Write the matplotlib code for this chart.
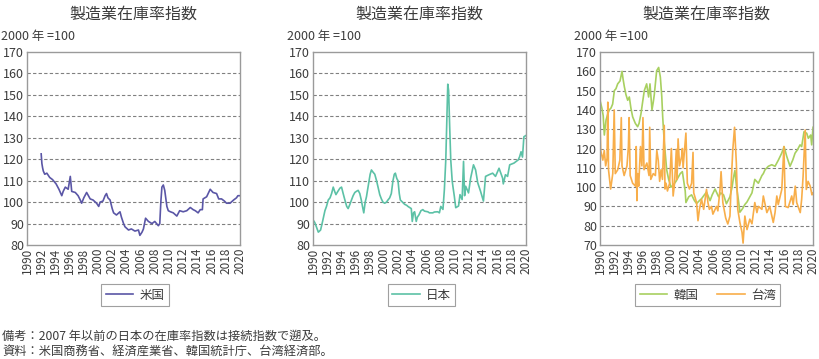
import matplotlib.pyplot as plt

plt.rcParams['font.family'] = ['Noto Sans CJK JP', 'DejaVu Sans']

TXT = "#3c3c3c"

# values (year as decimal, index 2000 = 100)
us_t = [1992.0, 1992.1, 1992.2, 1992.3, 1992.5, 1992.8, 1993.2, 1993.6, 1994.1, 1994.5,
        1994.9, 1995.1, 1995.4, 1995.8, 1996.1, 1996.3, 1996.8, 1997.2, 1997.5, 1997.7,
        1998.0, 1998.4, 1998.9, 1999.3, 1999.8, 2000.1, 2000.3, 2000.7, 2001.0, 2001.2,
        2001.4, 2001.7, 2002.0, 2002.2, 2002.6, 2003.1, 2003.3, 2003.6, 2003.8, 2004.3,
        2004.7, 2005.2, 2005.7, 2005.9, 2006.2, 2006.4, 2006.7, 2007.1, 2007.6, 2008.0,
        2008.5, 2008.7, 2008.85, 2009.0, 2009.2, 2009.4, 2009.7, 2009.9, 2010.2, 2010.6,
        2011.1, 2011.5, 2012.0, 2012.5, 2013.0, 2013.4, 2013.7, 2014.1, 2014.4, 2014.7,
        2014.8, 2015.3, 2015.8, 2016.2, 2016.7, 2017.0, 2017.4, 2017.8, 2018.1, 2018.6,
        2019.1, 2019.5, 2019.7, 2020.0]
us_v = [122.5, 118, 116, 114.5, 113, 113.5, 111.5, 110.5, 108.5, 106,
        103, 105, 107, 106, 112, 105, 104.5, 103, 101, 99.5,
        102, 104.5, 101.5, 101, 99.5, 98, 100, 100.5, 103, 104,
        102, 101, 97, 95, 94, 95.5, 93, 90, 88.5, 87,
        87.5, 86.5, 87, 84.5, 86, 87.5, 92.5, 91, 90, 91,
        89, 90, 100, 107, 108, 105.5, 98, 96, 95.5, 95,
        93.5, 96, 95.5, 96, 97.5, 96.5, 96, 95, 96.5, 96.5,
        101.5, 102.5, 106, 104.5, 104, 101.5, 101.5, 100.5, 99.5, 99.5,
        101, 102, 103, 103]

jp_t = [1990.05, 1990.25, 1990.42, 1990.75, 1991.07, 1991.35, 1991.68, 1991.9, 1992.15, 1992.4,
        1992.62, 1992.85, 1993.05, 1993.23, 1993.5, 1993.79, 1994.02, 1994.25, 1994.49, 1994.75,
        1994.95, 1995.2, 1995.42, 1995.65, 1995.89, 1996.1, 1996.36, 1996.59, 1996.8, 1996.97,
        1997.15, 1997.35, 1997.53, 1997.7, 1997.9, 1998.05, 1998.23, 1998.45, 1998.7, 1998.95,
        1999.16, 1999.4, 1999.63, 1999.85, 2000.1, 2000.35, 2000.56, 2000.8, 2001.03, 2001.26,
        2001.45, 2001.6, 2001.8, 2001.97, 2002.15, 2002.3, 2002.6, 2002.9, 2003.2, 2003.37,
        2003.6, 2003.84, 2003.98, 2004.15, 2004.31, 2004.54, 2004.7, 2004.91, 2005.2, 2005.47,
        2005.7, 2006.17, 2006.4, 2006.87, 2007.1, 2007.57, 2007.8, 2008.0, 2008.3, 2008.5,
        2008.7, 2008.98, 2009.1, 2009.25, 2009.4, 2009.6, 2009.7, 2009.9, 2010.1, 2010.5,
        2010.7, 2011.0, 2011.2, 2011.35, 2011.5, 2011.9, 2012.2, 2012.6, 2012.9, 2013.2,
        2013.6, 2014.0, 2014.3, 2014.8, 2015.3, 2015.7, 2016.2, 2016.7, 2016.8, 2017.1,
        2017.4, 2017.7, 2018.3, 2018.9, 2019.1, 2019.3, 2019.5, 2019.7, 2019.95]
jp_v = [91.5, 90.5, 89, 86, 87, 91, 96, 98, 101, 102,
        104, 107, 105, 103.5, 105, 106.5, 107, 104, 101, 98,
        97, 99, 101, 103, 104.5, 105, 105.5, 104, 101, 98,
        95, 100, 102.5, 106, 110, 113, 115, 114, 113, 110,
        107, 103.5, 101.5, 100, 99.5, 100, 101, 102, 104, 110,
        113, 113.5, 111, 110, 104, 101, 100, 99, 98.5, 98,
        97.5, 97, 91, 95, 95.5, 91, 93, 94, 96, 96.5,
        95.8, 95.5, 95, 95, 95.4, 95.5, 95, 98, 96.6, 105.8,
        119.7, 155, 152, 135, 119.7, 110, 107.4, 102.8, 97.4, 98.2,
        103.5, 101.2, 119, 103, 107.4, 104.3, 111.2, 117.4, 115, 109,
        105, 100.5, 112, 112.8, 113.5, 112, 115.8, 111.2, 108.5, 112.8,
        112, 117.4, 118.2, 119.7, 121.2, 123.5, 121, 130.5, 131]

kr_t = [1990.0, 1990.28, 1990.45, 1990.61, 1990.85, 1991.1, 1991.31, 1991.55, 1991.78, 1992.02,
        1992.25, 1992.49, 1992.82, 1993.1, 1993.25, 1993.43, 1993.65, 1993.9, 1994.13, 1994.35,
        1994.6, 1994.98, 1995.3, 1995.5, 1995.77, 1996.0, 1996.24, 1996.57, 1996.85, 1997.04,
        1997.32, 1997.5, 1997.65, 1997.98, 1998.26, 1998.5, 1998.7, 1998.83, 1999.06, 1999.25,
        1999.39, 1999.67, 2000.0, 2000.3, 2000.7, 2001.3, 2001.6, 2002.0, 2002.1, 2002.5,
        2002.9, 2003.3, 2003.6, 2004.0, 2004.3, 2004.7, 2005.0, 2005.5, 2005.8, 2006.2,
        2006.7, 2007.0, 2007.4, 2007.8, 2008.3, 2008.6, 2008.8, 2009.0, 2009.2, 2009.5,
        2009.7, 2010.1, 2010.4, 2010.7, 2011.1, 2011.4, 2011.8, 2012.3, 2012.8, 2013.0,
        2013.24, 2013.71, 2014.18, 2014.65, 2015.12, 2015.59, 2015.92, 2016.29, 2016.76, 2017.14,
        2017.47, 2017.8, 2018.17, 2018.4, 2018.73, 2019.11, 2019.34, 2019.67, 2019.81, 2020.0]
kr_v = [145, 140.7, 137, 127, 134.7, 138, 140, 141, 143, 150,
        151, 153.5, 155, 160, 156, 152, 148, 145, 146.7, 141,
        136.4, 133, 131.3, 133, 138, 144, 150, 153.5, 146.7, 153.5,
        140, 144, 148, 160.3, 162, 157, 147, 136.4, 122.7, 115,
        109, 104, 100, 101, 103, 107, 108, 98, 92, 95,
        96, 93, 91.5, 93, 94, 96, 97.4, 93, 96, 99,
        95, 97, 96, 91.4, 95, 100, 105, 108.6, 101, 93,
        87, 89, 91, 92.3, 95, 97, 104, 102, 106, 107,
        109, 110.8, 111.6, 110.8, 114, 117.6, 121, 116, 110.8, 114,
        117.6, 119.3, 121.9, 121, 128.7, 127.9, 125.3, 127, 121.9, 131]

tw_t = [1990.0, 1990.1, 1990.4, 1990.6, 1990.8, 1991.0, 1991.1, 1991.2, 1991.5, 1991.8,
        1992.0, 1992.15, 1992.5, 1992.8, 1993.0, 1993.1, 1993.4, 1993.8, 1994.0, 1994.1,
        1994.25, 1994.6, 1995.0, 1995.1, 1995.2, 1995.3, 1995.45, 1995.7, 1995.9, 1996.05,
        1996.2, 1996.6, 1996.9, 1997.0, 1997.15, 1997.5, 1997.8, 1998.0, 1998.2, 1998.4,
        1998.6, 1998.8, 1999.05, 1999.15, 1999.3, 1999.5, 1999.8, 2000.05, 2000.3, 2000.5,
        2000.75, 2000.85, 2001.0, 2001.2, 2001.5, 2001.6, 2001.7, 2001.9, 2002.1, 2002.3,
        2002.6, 2002.9, 2003.1, 2003.2, 2003.6, 2003.8, 2004.0, 2004.3, 2004.6, 2005.0,
        2005.2, 2005.4, 2005.7, 2005.9, 2006.4, 2006.6, 2006.9, 2007.05, 2007.3, 2007.7,
        2008.0, 2008.3, 2008.5, 2008.7, 2008.95, 2009.2, 2009.4, 2009.7, 2010.0, 2010.15,
        2010.4, 2010.7, 2011.1, 2011.4, 2011.8, 2012.1, 2012.3, 2012.8, 2013.0, 2013.5,
        2013.9, 2014.4, 2014.65, 2014.9, 2015.1, 2015.6, 2015.9, 2016.1, 2016.5, 2017.0,
        2017.2, 2017.5, 2017.7, 2018.2, 2018.4, 2018.6, 2018.9, 2019.05, 2019.3, 2019.6,
        2019.85, 2020.0]
tw_v = [132, 119, 114, 119, 111, 115, 144, 109, 99, 107,
        140, 107, 109, 114, 136, 111, 106, 111, 121, 136,
        106, 102, 100.5, 121, 93, 107, 100.5, 121, 111, 136,
        109, 112.5, 106, 131, 104, 107, 106, 119, 114, 103,
        109, 104, 132, 99, 102, 98, 102, 120, 95.4, 102,
        119.6, 104, 125, 111, 116, 120, 110, 119, 128, 102,
        99, 102, 118, 97, 92, 82.6, 88.5, 93.7, 88.5, 98.8,
        92, 88.5, 90, 86, 90, 87.7, 98.8, 108, 92, 84,
        80.9, 85, 104, 119.3, 131, 112.5, 88.5, 81.7, 76.6, 71,
        85, 78, 83.4, 81, 92, 86.8, 90, 88.5, 95.4, 86.8,
        90, 81.7, 86.8, 95.4, 91, 98.8, 121, 90, 89.4, 95.4,
        91, 100.5, 92, 86.8, 93.7, 105.6, 129.6, 98.8, 103, 100.5,
        96, 97]

years = list(range(1990, 2021, 2))

fig = plt.figure(figsize=(8.2, 3.59), dpi=100)


def make_panel(left, ylo, series, leg_x, ncol):
    ax = fig.add_axes([left, 0.3175, 0.2598, 0.5376])
    handles = []
    for t, v, c, name in series:
        h, = ax.plot(t, v, color=c, lw=1.2, label=name)
        handles.append(h)
    ax.set_xlim(1990, 2020)
    ax.set_ylim(ylo, 170)
    ax.set_yticks(range(ylo, 171, 10))
    ax.set_xticks(years)
    ax.set_xticklabels([str(y) for y in years], rotation=90, fontsize=8.5, color=TXT)
    ax.tick_params(axis="y", labelsize=9, labelcolor=TXT)
    ax.tick_params(length=0, pad=2)
    for yv in range(ylo + 10, 170, 10):
        ax.axhline(yv, color="#808080", lw=0.8, ls=(0, (3, 2)), zorder=0)
    for s in ax.spines.values():
        s.set_color("#9a9a9a")
        s.set_linewidth(1.0)
    ax.set_title("製造業在庫率指数", fontsize=11.5, color=TXT, pad=24)
    ax.text(-0.12, 1.045, "2000 年 =100", transform=ax.transAxes, fontsize=9,
            color=TXT, ha="left", va="bottom")
    leg = fig.legend(handles=handles, loc="center", bbox_to_anchor=(leg_x, 0.178),
                     ncol=ncol, fontsize=9, frameon=True, fancybox=False,
                     handlelength=2.2, borderpad=0.35, columnspacing=1.5,
                     handletextpad=0.5)
    leg.get_frame().set_edgecolor("#888888")
    leg.get_frame().set_linewidth(0.8)
    for tx in leg.get_texts():
        tx.set_color(TXT)
    return ax


make_panel(0.0329, 80, [(us_t, us_v, "#5a56a6", "米国")], 0.1646, 1)
make_panel(0.3817, 80, [(jp_t, jp_v, "#5cc1a6", "日本")], 0.514, 1)
make_panel(0.7317, 70, [(kr_t, kr_v, "#a8d060", "韓国"),
                        (tw_t, tw_v, "#f8ae4a", "台湾")], 0.863, 2)

fig.text(0.003, 0.064, "備考：2007 年以前の日本の在庫率指数は接続指数で遡及。",
         fontsize=8.8, color=TXT, ha="left", va="center")
fig.text(0.003, 0.022, "資料：米国商務省、経済産業省、韓国統計庁、台湾経済部。",
         fontsize=8.8, color=TXT, ha="left", va="center")

fig.savefig("out.png", dpi=100)
